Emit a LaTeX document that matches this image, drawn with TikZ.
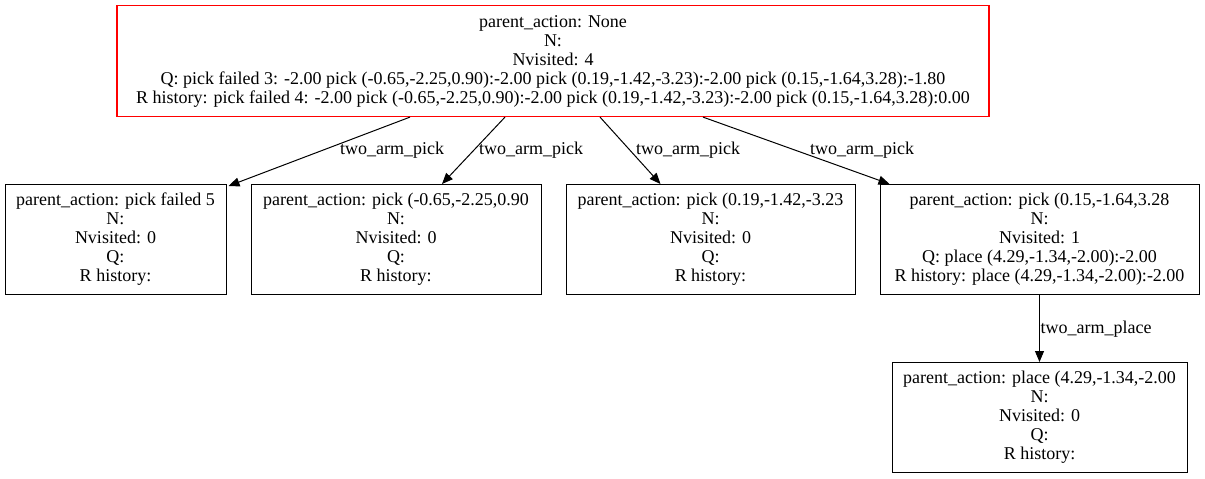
\documentclass[tikz,border=0pt]{standalone}
\usepackage{fontspec}
\setmainfont{Liberation Serif}
\usetikzlibrary{arrows.meta}
\begin{document}
\begin{tikzpicture}[x=1pt,y=-1pt,
  box/.style={draw, line width=1pt, align=center, inner sep=0pt, font=\fontsize{18}{19}\selectfont},
  rootbox/.style={box, draw=red, line width=1.2pt},
  edge/.style={draw, line width=1pt, -{Triangle[length=11pt,width=9pt]}},
  lab/.style={font=\fontsize{18}{19}\selectfont, inner sep=0pt}]
\useasboundingbox (0,0) rectangle (1205,479);
\node[rootbox, minimum width=872pt, minimum height=111pt] (root) at (553,61)
 {parent\_action: None\\N:\\Nvisited: 4\\Q: pick failed 3: -2.00 pick (-0.65,-2.25,0.90):-2.00 pick (0.19,-1.42,-3.23):-2.00 pick (0.15,-1.64,3.28):-1.80\\R history: pick failed 4: -2.00 pick (-0.65,-2.25,0.90):-2.00 pick (0.19,-1.42,-3.23):-2.00 pick (0.15,-1.64,3.28):0.00};
\node[box, minimum width=221pt, minimum height=110pt] (b1) at (115.5,239.5)
 {parent\_action: pick failed 5\\N:\\Nvisited: 0\\Q:\\R history:};
\node[box, minimum width=290pt, minimum height=110pt] (b2) at (396,239.5)
 {parent\_action: pick (-0.65,-2.25,0.90\\N:\\Nvisited: 0\\Q:\\R history:};
\node[box, minimum width=289pt, minimum height=110pt] (b3) at (710.5,239.5)
 {parent\_action: pick (0.19,-1.42,-3.23\\N:\\Nvisited: 0\\Q:\\R history:};
\node[box, minimum width=319pt, minimum height=110pt] (b4) at (1039.5,239.5)
 {parent\_action: pick (0.15,-1.64,3.28\\N:\\Nvisited: 1\\Q: place (4.29,-1.34,-2.00):-2.00\\R history: place (4.29,-1.34,-2.00):-2.00};
\node[box, minimum width=295pt, minimum height=110pt] (b5) at (1039.5,417.5)
 {parent\_action: place (4.29,-1.34,-2.00\\N:\\Nvisited: 0\\Q:\\R history:};
\draw[edge] ([xshift=-143pt]root.south) -- ([xshift=2pt,yshift=-2pt]b1.north east);
\draw[edge] ([xshift=-48pt]root.south) -- ([xshift=46pt]b2.north);
\draw[edge] ([xshift=47pt]root.south) -- ([xshift=-50pt]b3.north);
\draw[edge] ([xshift=150pt]root.south) -- ([xshift=10pt]b4.north west);
\draw[edge] (b4.south) -- (b5.north);
\node[lab] (l1) at (392,150) {two\_arm\_pick};
\node[lab] (l2) at (531,150) {two\_arm\_pick};
\node[lab] (l3) at (688,150) {two\_arm\_pick};
\node[lab] (l4) at (862,150) {two\_arm\_pick};
\node[lab] (l5) at (1096,329) {two\_arm\_place};
\end{tikzpicture}
\end{document}
